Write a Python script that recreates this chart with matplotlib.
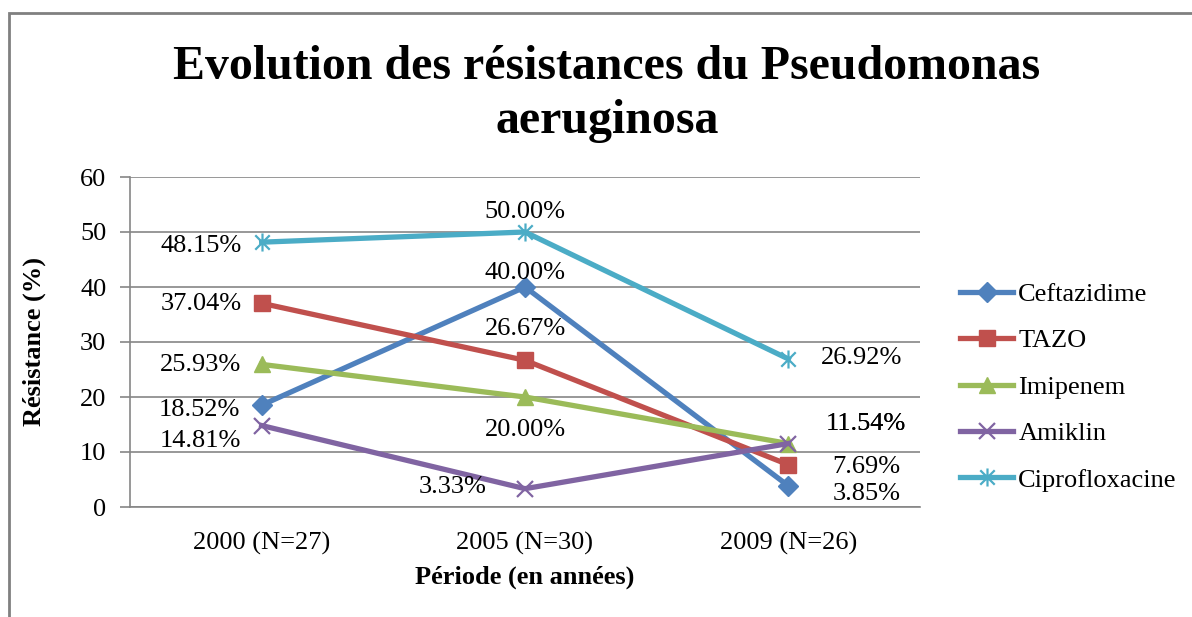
import matplotlib
matplotlib.use("Agg")
import matplotlib.pyplot as plt
from matplotlib.path import Path
from matplotlib.patches import Rectangle

plt.rcParams['font.family'] = ['Liberation Serif', 'DejaVu Serif']

categories = ["2000 (N=27)", "2005 (N=30)", "2009 (N=26)"]
series_names = ["Ceftazidime", "TAZO", "Imipenem", "Amiklin", "Ciprofloxacine"]
ceftazidime = [18.52, 40.00, 3.85]
tazo = [37.04, 26.67, 7.69]
imipenem = [25.93, 20.00, 11.54]
amiklin = [14.81, 3.33, 11.54]
ciprofloxacine = [48.15, 50.00, 26.92]
yticks = [0, 10, 20, 30, 40, 50, 60]

colors = ["#4F81BD", "#C0504D", "#9BBB59", "#8064A2", "#4BACC6"]

star = Path([(0, -1), (0, 1), (-0.8, -0.8), (0.8, 0.8), (-0.8, 0.8), (0.8, -0.8)],
            [Path.MOVETO, Path.LINETO, Path.MOVETO, Path.LINETO, Path.MOVETO, Path.LINETO])
markers = ["D", "s", "^", "x", star]
msizes = [10, 12, 12, 11, 13]

# label offsets in pixels (dx, dy, ha, va) per series per point
offsets = [
    [(-22, -5, 'right', 'center'), (0, 3, 'center', 'bottom'), (78, -8, 'center', 'center')],
    [(-20, -1, 'right', 'center'), (0, 20, 'center', 'bottom'), (78, -2, 'center', 'center')],
    [(-21, -1, 'right', 'center'), (0, -33, 'center', 'center'), (77, 20, 'center', 'center')],
    [(-21, -15, 'right', 'center'), (-38, 2, 'right', 'center'), (77, 20, 'center', 'center')],
    [(-20, -4, 'right', 'center'), (0, 20, 'center', 'center'), (73, 1, 'center', 'center')],
]

fig = plt.figure(figsize=(11.92, 6.17), dpi=100)
fig.patches.append(Rectangle((9/1192, -0.1), 1.2, 1 - 13/617 + 0.1, transform=fig.transFigure,
                             fill=False, edgecolor='#808080', linewidth=2.0))

ax = fig.add_axes([130/1192, 1 - 507/617, 790/1192, 330/617])
x = list(range(len(categories)))
all_series = [ceftazidime, tazo, imipenem, amiklin, ciprofloxacine]
for i, (name, vals) in enumerate(zip(series_names, all_series)):
    mk = markers[i]
    kw = dict(color=colors[i], linewidth=3.8, marker=mk, markersize=msizes[i],
              label=name, zorder=3 + i)
    if mk in ("x",) or isinstance(mk, Path):
        kw.update(markeredgewidth=1.6, markeredgecolor=colors[i])
    else:
        kw.update(markeredgecolor=colors[i], markerfacecolor=colors[i])
    ax.plot(x, vals, **kw)
    for j, v in enumerate(vals):
        dx, dy, ha, va = offsets[i][j]
        ax.annotate(f"{v:.2f}%", (j, v), xytext=(dx, dy), textcoords='offset pixels',
                    ha=ha, va=va, fontsize=19, color='black', zorder=10)

ax.set_xlim(-0.5, 2.5)
ax.set_ylim(0, 60)
ax.set_yticks(yticks)
ax.set_xticks(x)
ax.set_xticklabels(categories, fontsize=19)
ax.tick_params(axis='y', labelsize=19, length=7, color='#868686', width=1.2, pad=10)
ax.tick_params(axis='x', length=0, pad=18)
ax.grid(axis='y', color='#868686', linewidth=1.2)
ax.set_axisbelow(True)
for s in ['top', 'right']:
    ax.spines[s].set_visible(False)
for s in ['left', 'bottom']:
    ax.spines[s].set_color('#868686')
    ax.spines[s].set_linewidth(1.2)

ax.set_ylabel("Résistance (%)", fontsize=19, fontweight='bold')
ax.yaxis.set_label_coords((46 - 130) / 790, 0.5)
ax.set_xlabel("Période (en années)", fontsize=19, fontweight='bold')
ax.xaxis.set_label_coords(0.5, -(566 - 507) / 330)

fig.text(607/1192, 1 - 67/617, "Evolution des résistances du Pseudomonas",
         ha='center', va='center', fontsize=34.5, fontweight='bold')
fig.text(607/1192, 1 - 121/617, "aeruginosa",
         ha='center', va='center', fontsize=34.5, fontweight='bold')

leg = ax.legend(loc='center left', bbox_to_anchor=(947/1192, 1 - 387/617),
                bbox_transform=fig.transFigure, frameon=False, fontsize=19,
                handlelength=2.0, handletextpad=0.2, labelspacing=0.87, borderpad=0)

fig.savefig("out.png", dpi=100)
